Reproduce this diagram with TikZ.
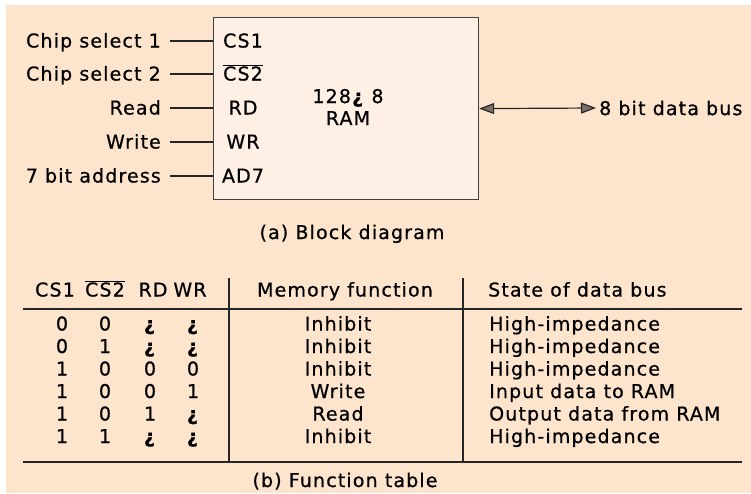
\documentclass[tikz,border=0pt]{standalone}
\usepackage{fontspec}
\setmainfont{DejaVu Sans}[LetterSpace=6, FakeBold=0.7]
\usetikzlibrary{arrows.meta}

\definecolor{peach}{HTML}{FDE4CC}
\definecolor{chipfill}{HTML}{FEF0E4}
\definecolor{headgray}{HTML}{7A716A}
\newcommand{\nCStwo}{\ensuremath{\overline{\mbox{CS2}}}}
\newcommand{\dc}{\textbf{¿}}

\begin{document}
\begin{tikzpicture}[x=1pt, y=-1pt, font=\fontsize{19}{22}\selectfont,
    pin/.style={anchor=base, inner sep=1pt},
    siglabel/.style={anchor=base east, inner xsep=9pt, inner ysep=4pt},
    cell/.style={anchor=base, inner sep=1pt},
    wire/.style={line width=1.2pt, draw=black!85},
    rule/.style={line width=1.6pt, draw=black!85},
    databus/.style={wire, >={Triangle[length=15pt, width=11pt, fill=headgray]}, <->}]
    \fill[white] (0,0) rectangle (751,493);
    \fill[peach] (6,5) rectangle (751,493);
    \useasboundingbox (0,0) rectangle (751,493);

    % block diagram
    \node[draw=black!75, line width=1.2pt, fill=chipfill, anchor=north west,
          minimum width=265pt, minimum height=182pt] (ram) at (213,17) {};
    \foreach \y/\pinname/\sig [count=\i] in {41/CS1/Chip select 1, 74/\nCStwo/Chip select 2,
        108/RD/Read, 142/WR/Write, 176/AD7/7 bit address} {
        \coordinate (in\i) at (213,\y);
        \node[pin] (pin\i) at (243,\y+6.5) {\pinname};
        \node[siglabel] (sig\i) at (170,\y+6.5) {\sig};
        \draw[wire] (sig\i.east |- in\i) -- (in\i);
    }
    \node[align=center] (size) at (348,107) {128\dc\ 8\\RAM};
    \node[anchor=west, inner sep=3pt] (bus) at (596,108) {8 bit data bus};
    \draw[databus] (ram.east) -- (bus.west);
    \node[anchor=base] (capa) at (352,239) {(a) Block diagram};

    % function table
    \node[cell] (hcs1) at (55,296.5) {CS1};
    \node[cell] (hcs2) at (105,296.5) {\nCStwo};
    \node[cell] (hrd) at (153,296.5) {RD};
    \node[cell] (hwr) at (190,296.5) {WR};
    \node[cell] (hfun) at (345,296.5) {Memory function};
    \node[cell, anchor=base west] (hstate) at (487,296.5) {State of data bus};
    \foreach \a/\b/\c/\d/\fun/\state [count=\r from 0] in {
        0/0/\dc/\dc/Inhibit/High-impedance,
        0/1/\dc/\dc/Inhibit/High-impedance,
        1/0/0/0/Inhibit/High-impedance,
        1/0/0/1/Write/Input data to RAM,
        1/0/1/\dc/Read/Output data from RAM,
        1/1/\dc/\dc/Inhibit/High-impedance} {
        \node[cell] (cs1\r) at (62,330.5+22.5*\r) {\a};
        \node[cell] (cs2\r) at (105,330.5+22.5*\r) {\b};
        \node[cell] (rd\r) at (150,330.5+22.5*\r) {\c};
        \node[cell] (wr\r) at (193,330.5+22.5*\r) {\d};
        \node[cell] (fun\r) at (338,330.5+22.5*\r) {\fun};
        \node[cell, anchor=base west] (state\r) at (488,330.5+22.5*\r) {\state};
    }
    \draw[rule] (23,309) -- (742,309);
    \draw[rule] (23,462) -- (742,462);
    \draw[rule] (229,278) -- (229,462);
    \draw[rule] (463,278) -- (463,462);
    \node[anchor=base] (capb) at (345,487) {(b) Function table};
\end{tikzpicture}
\end{document}
